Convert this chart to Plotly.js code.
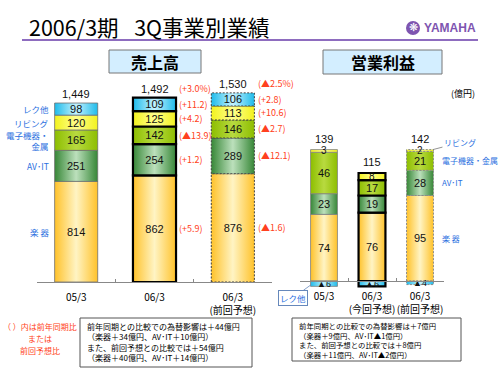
<!DOCTYPE html>
<html><head><meta charset="utf-8">
<script src="https://cdn.plot.ly/plotly-3.0.1.min.js"></script>
<style>html,body{margin:0;padding:0;background:#fff;} #chart{width:500px;height:375px;}</style>
</head><body><div id="chart"></div>
<script>
// ---------- data ----------
const salesCats = ['05/3', '06/3', '06/3<br>(前回予想)'];
const profitCats = ['05/3', '06/3<br>(今回予想)', '06/3<br>(前回予想)'];
const segKeys = ['gakki', 'avit', 'denshi', 'living', 'rec'];
const segLabelsLeft = ['楽 器', 'AV･IT', '電子機器・<br>金属', 'リビング', 'レク他'];
const segLabelsRight = ['楽 器', 'AV･IT', '電子機器・金属', 'リビング', 'レク他'];

const salesGakki = [814, 862, 876];
const salesAVIT = [251, 254, 289];
const salesDenshi = [165, 142, 146];
const salesLiving = [120, 125, 113];
const salesRec = [98, 109, 106];
const salesTotal = [1449, 1492, 1530];
const salesTotalText = ['1,449', '1,492', '1,530'];
const salesPctText = ['', '(+3.0%)', '(▲2.5%)'];
const chgGakki = ['', '(+5.9)', '(▲1.6)'];
const chgAVIT = ['', '(+1.2)', '(▲12.1)'];
const chgDenshi = ['', '(▲13.9)', '(▲2.7)'];
const chgLiving = ['', '(+4.2)', '(+10.6)'];
const chgRec = ['', '(+11.2)', '(+2.8)'];

const profitGakki = [74, 76, 95];
const profitAVIT = [23, 19, 28];
const profitDenshi = [46, 17, 21];
const profitLiving = [3, 8, 2];
const profitRec = [-6, -6, -4];
const profitTotal = [139, 115, 142];

const noteLeft = ['（ ）内は前年同期比', 'または', '前回予想比'];
const noteSales = ['前年同期との比較での為替影響は＋44億円', '（楽器＋34億円、AV･IT＋10億円）', 'また、前回予想との比較では＋54億円', '（楽器＋40億円、AV･IT＋14億円）'];
const noteProfit = ['前年同期との比較での為替影響は＋7億円', '（楽器＋9億円、AV･IT▲1億円）', 'また、前回予想との比較では＋8億円', '（楽器＋11億円、AV･IT▲2億円）'];

// ---------- style ----------
const FONT = '"Noto Sans CJK JP", "Noto Sans", sans-serif';
const NUMFONT = 'Arial, "Liberation Sans", "Noto Sans CJK JP", sans-serif';
const RED = '#FF4020', BLUE = '#2B6FE0', PURPLE = '#7E55B0';
const baseColors = {gakki: '#FFD54A', avit: '#5FA35F', denshi: '#9FCB14', living: '#FFFF40', rec: '#44C8F0'};
const grads = {
  gakki: ['#FFC22A', '#FFF4C4', '#FFC22A'],
  avit: ['#378737', '#BCE0BC', '#378737'],
  denshi: ['#8DBE00', '#B8DA40', '#8DBE00'],
  living: ['#F2F21E', '#FFFF8C', '#F2F21E'],
  rec: ['#1FBBEA', '#C4F2FF', '#1FBBEA']
};
const px = x => x / 500, py = y => 1 - y / 375;

const salesLineColors = ['#707070', '#000000', '#404040'];
const salesLineWidths = [0.8, 2.2, 1];
const profitLineColors = ['#808080', '#000000', '#8a8a8a'];
const profitLineWidths = [0.8, 2.2, 1];
const profitTextSizes = [11, 11, 11, 10, 9];

function seg(cats, vals, key, xa, ya, width, lc, lw, fs) {
  return {
    type: 'bar', x: cats, y: vals, xaxis: xa, yaxis: ya, width: width, meta: key, name: key,
    marker: {color: baseColors[key], line: {color: lc, width: lw}},
    text: vals.map(v => v < 0 ? '▲' + Math.abs(v) : String(v)),
    textposition: 'inside', insidetextanchor: 'middle', textangle: 0, constraintext: 'none',
    textfont: {family: NUMFONT, size: fs || 11, color: '#111'}, cliponaxis: false,
    hoverinfo: 'skip', showlegend: false
  };
}

const salesSeries = [salesGakki, salesAVIT, salesDenshi, salesLiving, salesRec];
const profitSeries = [profitGakki, profitAVIT, profitDenshi, profitLiving, profitRec];
const data = [];
salesSeries.forEach((v, i) => data.push(seg(salesCats, v, segKeys[i], 'x', 'y', 0.55, salesLineColors, salesLineWidths)));
profitSeries.forEach((v, i) => data.push(seg(profitCats, v, segKeys[i], 'x2', 'y2', 0.56, profitLineColors, profitLineWidths, profitTextSizes[i])));

// ---------- annotations ----------
const ann = [];
function segMid(series, s, idx) {
  let base = 0;
  for (let k = 0; k < s; k++) if (series[k][idx] > 0) base += series[k][idx];
  const v = series[s][idx];
  return v < 0 ? v / 2 : base + v / 2;
}
function paperText(x, y, text, font, xa, ya, align) {
  ann.push({xref: 'paper', yref: 'paper', x: px(x), y: py(y), xanchor: xa || 'center', yanchor: ya || 'middle',
    align: align || 'center', showarrow: false, text: text, font: font});
}
// title
paperText(27, 27, '2006/3期\u2002 3Q事業別業績', {family: FONT, size: 21.5, color: '#000'}, 'left');
paperText(478, 28, '<b>YAMAHA</b>', {family: 'Arial, "Liberation Sans", sans-serif', size: 12, color: PURPLE}, 'right');
paperText(413, 28, '❋', {family: '"DejaVu Sans", sans-serif', size: 11, color: '#fff'});
paperText(155, 62, '<b>売上高</b>', {family: FONT, size: 16, color: '#000'});
paperText(383, 62, '<b>営業利益</b>', {family: FONT, size: 16, color: '#000'});
paperText(463, 94, '(億円)', {family: FONT, size: 9, color: '#000'});

// totals
salesTotal.forEach((t, i) => ann.push({xref: 'x', yref: 'y', x: i, y: t, xanchor: 'center', yanchor: 'bottom', yshift: 1, showarrow: false,
  text: salesTotalText[i], font: {family: NUMFONT, size: 11, color: '#111'}}));
profitTotal.forEach((t, i) => {
  const top = profitSeries.reduce((a, s) => a + Math.max(0, s[i]), 0);
  ann.push({xref: 'x2', yref: 'y2', x: i, y: top, xanchor: 'center', yanchor: 'bottom', yshift: 3, showarrow: false,
    text: String(t), font: {family: NUMFONT, size: 11, color: '#111'}});
});
// red change labels
salesPctText.forEach((t, i) => { if (t) ann.push({xref: 'x', yref: 'y', x: i + 0.29, y: salesTotal[i], xanchor: 'left', yanchor: 'bottom', yshift: 1, showarrow: false,
  text: t, font: {family: FONT, size: 9, color: RED}}); });
const chgs = [chgGakki, chgAVIT, chgDenshi, chgLiving, chgRec];
chgs.forEach((arr, s) => arr.forEach((t, i) => { if (t) ann.push({xref: 'x', yref: 'y', x: i + 0.29, y: segMid(salesSeries, s, i),
  xanchor: 'left', yanchor: 'middle', showarrow: false, text: t, font: {family: FONT, size: 9, color: RED}}); }));
// blue labels left chart
segLabelsLeft.forEach((t, s) => ann.push({xref: 'x', yref: 'y', x: -0.32, y: segMid(salesSeries, s, 0), xanchor: 'right', yanchor: 'middle',
  align: 'right', showarrow: false, text: t, font: {family: FONT, size: 8.5, color: BLUE}}));
// blue labels right chart
[0, 1, 2].forEach(s => ann.push({xref: 'x2', yref: 'y2', x: 2.41, y: segMid(profitSeries, s, 2), xanchor: 'left', yanchor: 'middle',
  showarrow: false, text: segLabelsRight[s], font: {family: FONT, size: 8, color: BLUE}}));
ann.push({xref: 'x2', yref: 'y2', x: 2.27, y: segMid(profitSeries, 3, 2) + 1, ax: 27, ay: -7, showarrow: true, arrowhead: 0,
  arrowwidth: 0.8, arrowcolor: '#777', text: segLabelsRight[3], font: {family: FONT, size: 8, color: BLUE}});
ann.push({xref: 'x2', yref: 'y2', x: -0.27, y: profitRec[0] * 0.7, ax: -18, ay: 13, showarrow: true, arrowhead: 0,
  arrowwidth: 0.8, arrowcolor: '#6688BB', text: segLabelsRight[4], bordercolor: '#6688BB', borderwidth: 1, borderpad: 1,
  bgcolor: '#fff', font: {family: FONT, size: 8.5, color: BLUE}});
// notes
noteLeft.forEach((t, k) => paperText(40, 326 + k * 12, t, {family: FONT, size: 8, color: RED}));
paperText(85, 342, noteSales.join('<br>'), {family: FONT, size: 8, color: '#000'}, 'left', 'middle', 'left');
paperText(297, 339.5, noteProfit.join('<br>'), {family: FONT, size: 7.4, color: '#000'}, 'left', 'middle', 'left');

// ---------- shapes ----------
const shapes = [
  {type: 'line', xref: 'paper', yref: 'paper', x0: px(22), x1: px(478), y0: py(40), y1: py(40), line: {color: '#8E6CBF', width: 2}},
  {type: 'circle', xref: 'paper', yref: 'paper', x0: px(406), x1: px(420), y0: py(35), y1: py(21), fillcolor: PURPLE, line: {width: 0}},
  {type: 'rect', xref: 'paper', yref: 'paper', x0: px(109), x1: px(201), y0: py(73), y1: py(50), fillcolor: '#D3EEFF', line: {color: '#777', width: 1}, layer: 'below'},
  {type: 'rect', xref: 'paper', yref: 'paper', x0: px(323), x1: px(442), y0: py(74), y1: py(50), fillcolor: '#D3EEFF', line: {color: '#777', width: 1}, layer: 'below'},
  {type: 'rect', xref: 'paper', yref: 'paper', x0: px(80), x1: px(252), y0: py(367), y1: py(318), fillcolor: 'rgba(0,0,0,0)', line: {color: '#555', width: 1}},
  {type: 'rect', xref: 'paper', yref: 'paper', x0: px(292), x1: px(461), y0: py(361), y1: py(318), fillcolor: 'rgba(0,0,0,0)', line: {color: '#555', width: 1}}
];

const xCommon = {type: 'category', range: [-0.5, 2.5], anchor: 'free', tickson: 'boundaries', ticks: 'inside', ticklen: 3,
  tickcolor: '#888', showline: true, linecolor: '#888', linewidth: 1, showgrid: false, zeroline: false, tickangle: 0,
  tickfont: {family: FONT, size: 10, color: '#000'}, fixedrange: true, ticklabelstandoff: 6};
const layout = {
  width: 500, height: 375, margin: {l: 0, r: 0, t: 0, b: 0}, paper_bgcolor: '#fff', plot_bgcolor: 'rgba(0,0,0,0)',
  barmode: 'relative', showlegend: false, font: {family: FONT},
  xaxis: Object.assign({}, xCommon, {domain: [0.074, 0.544], position: 0.248}),
  yaxis: {domain: [0.248, 0.9072], range: [0, 2000], visible: false, fixedrange: true},
  xaxis2: Object.assign({}, xCommon, {domain: [0.6, 0.888], position: 0.2507}),
  yaxis2: {domain: [0.2267, 0.7307], range: [-10, 200], visible: false, fixedrange: true},
  annotations: ann, shapes: shapes
};

const gd = document.getElementById('chart');
Plotly.newPlot(gd, data, layout, {staticPlot: true, displayModeBar: false}).then(() => {
  const svg = gd.querySelector('svg.main-svg');
  const NS = 'http://www.w3.org/2000/svg';
  let defs = svg.querySelector('defs');
  if (!defs) { defs = document.createElementNS(NS, 'defs'); svg.insertBefore(defs, svg.firstChild); }
  Object.keys(grads).forEach(k => {
    const lg = document.createElementNS(NS, 'linearGradient');
    lg.setAttribute('id', 'grad-' + k);
    lg.setAttribute('x1', '0'); lg.setAttribute('y1', '0'); lg.setAttribute('x2', '1'); lg.setAttribute('y2', '0');
    grads[k].forEach((c, j) => {
      const st = document.createElementNS(NS, 'stop');
      st.setAttribute('offset', String(j / (grads[k].length - 1)));
      st.setAttribute('stop-color', c);
      lg.appendChild(st);
    });
    defs.appendChild(lg);
  });
  gd.querySelectorAll('g.trace.bars').forEach(g => {
    const cd = g.__data__;
    const tr = cd && cd[0] && cd[0].trace;
    if (!tr) return;
    const key = tr.meta || tr.name;
    g.querySelectorAll('g.point path').forEach((p, i) => {
      p.style.fill = 'url(#grad-' + key + ')';
      if (i === 2) p.style.strokeDasharray = '2,1.5';
    });
  });
});
</script></body></html>
